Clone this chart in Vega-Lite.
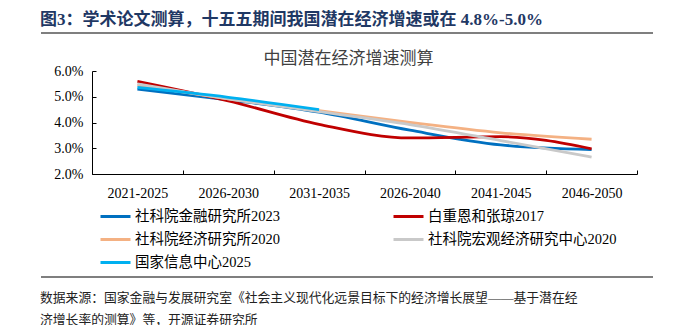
{
  "$schema": "https://vega.github.io/schema/vega-lite/v6.json",
  "padding": {"left": 40, "top": 11, "right": 0, "bottom": 0},
  "background": "white",
  "spacing": 7,
  "resolve": {"legend": {"color": "independent"}},
  "config": {"view": {"stroke": null}},
  "vconcat": [
    {
      "width": 545,
      "height": 10,
      "title": {
        "text": "图3：学术论文测算，十五五期间我国潜在经济增速或在 4.8%-5.0%",
        "anchor": "start",
        "font": "'Liberation Serif', 'Noto Sans CJK SC'",
        "fontSize": 17,
        "fontWeight": "bold",
        "color": "#1F3864",
        "offset": 3
      },
      "data": {"values": [{"x1": -51, "x2": 561, "r": 1}]},
      "layer": [
        {"mark": {"type": "rect", "fill": "white", "opacity": 0}, "encoding": {}},
        {
          "mark": {"type": "rule", "stroke": "#7F7F7F", "strokeWidth": 2},
          "encoding": {
            "x": {"field": "x1", "type": "quantitative", "scale": {"domain": [0, 545], "nice": false, "zero": false}, "axis": null},
            "x2": {"field": "x2"},
            "y": {"field": "r", "type": "quantitative", "scale": {"domain": [0, 1]}, "axis": null}
          }
        }
      ]
    },
    {
      "width": 545,
      "height": 103,
      "title": {
        "text": "中国潜在经济增速测算",
        "anchor": "middle",
        "frame": "group",
        "dx": -16,
        "font": "'Liberation Serif', 'Noto Sans CJK SC'",
        "fontSize": 17,
        "fontWeight": "normal",
        "color": "#404040",
        "offset": -4
      },
      "data": {
        "values": [
          {"period": "2021-2025", "series": "社科院金融研究所2023", "value": 5.3},
          {"period": "2026-2030", "series": "社科院金融研究所2023", "value": 4.88},
          {"period": "2031-2035", "series": "社科院金融研究所2023", "value": 4.4},
          {"period": "2026-2040", "series": "社科院金融研究所2023", "value": 3.7},
          {"period": "2041-2045", "series": "社科院金融研究所2023", "value": 3.13},
          {"period": "2046-2050", "series": "社科院金融研究所2023", "value": 2.95},
          {"period": "2021-2025", "series": "白重恩和张琼2017", "value": 5.6},
          {"period": "2026-2030", "series": "白重恩和张琼2017", "value": 4.84},
          {"period": "2031-2035", "series": "白重恩和张琼2017", "value": 3.93},
          {"period": "2026-2040", "series": "白重恩和张琼2017", "value": 3.4},
          {"period": "2041-2045", "series": "白重恩和张琼2017", "value": 3.45},
          {"period": "2046-2050", "series": "白重恩和张琼2017", "value": 2.98},
          {"period": "2021-2025", "series": "社科院经济研究所2020", "value": 5.45},
          {"period": "2026-2030", "series": "社科院经济研究所2020", "value": 4.92},
          {"period": "2031-2035", "series": "社科院经济研究所2020", "value": 4.46},
          {"period": "2026-2040", "series": "社科院经济研究所2020", "value": 4.0},
          {"period": "2041-2045", "series": "社科院经济研究所2020", "value": 3.6},
          {"period": "2046-2050", "series": "社科院经济研究所2020", "value": 3.35},
          {"period": "2021-2025", "series": "社科院宏观经济研究中心2020", "value": 5.5},
          {"period": "2026-2030", "series": "社科院宏观经济研究中心2020", "value": 4.92},
          {"period": "2031-2035", "series": "社科院宏观经济研究中心2020", "value": 4.42},
          {"period": "2026-2040", "series": "社科院宏观经济研究中心2020", "value": 3.92},
          {"period": "2041-2045", "series": "社科院宏观经济研究中心2020", "value": 3.3},
          {"period": "2046-2050", "series": "社科院宏观经济研究中心2020", "value": 2.66},
          {"period": "2021-2025", "series": "国家信息中心2025", "value": 5.36},
          {"period": "2026-2030", "series": "国家信息中心2025", "value": 4.98},
          {"period": "2031-2035", "series": "国家信息中心2025", "value": 4.5}
        ]
      },
      "mark": {"type": "line", "strokeWidth": 2.8, "interpolate": "monotone"},
      "encoding": {
        "x": {
          "field": "period",
          "type": "ordinal",
          "sort": ["2021-2025", "2026-2030", "2031-2035", "2026-2040", "2041-2045", "2046-2050"],
          "scale": {"type": "band", "paddingInner": 0, "paddingOuter": 0},
          "bandPosition": 0.5,
          "axis": {
            "title": null,
            "labelAngle": 0,
            "tickBand": "extent",
            "tickSize": -4,
            "tickColor": "#000",
            "domainColor": "#000",
            "labelColor": "#000",
            "labelFont": "'Liberation Serif', 'Noto Sans CJK SC'",
            "labelFontSize": 14,
            "labelPadding": 16,
            "grid": false
          }
        },
        "y": {
          "field": "value",
          "type": "quantitative",
          "scale": {"domain": [2, 6], "nice": false, "zero": false},
          "axis": {
            "values": [2, 3, 4, 5, 6],
            "labelExpr": "format(datum.value, '.1f') + '%'",
            "title": null,
            "tickSize": -4,
            "tickColor": "#000",
            "domainColor": "#000",
            "labelColor": "#000",
            "labelFont": "'Liberation Serif', 'Noto Sans CJK SC'",
            "labelFontSize": 14,
            "labelPadding": 13,
            "grid": false
          }
        },
        "color": {
          "field": "series",
          "type": "nominal",
          "sort": ["社科院金融研究所2023", "白重恩和张琼2017", "社科院经济研究所2020", "社科院宏观经济研究中心2020", "国家信息中心2025"],
          "scale": {
            "domain": ["社科院金融研究所2023", "白重恩和张琼2017", "社科院经济研究所2020", "社科院宏观经济研究中心2020", "国家信息中心2025"],
            "range": ["#0070C0", "#C00000", "#F4B183", "#C9C9C9", "#00B0F0"]
          },
          "legend": {
            "title": null,
            "orient": "bottom",
            "direction": "horizontal",
            "offset": 0,
            "padding": 0,
            "symbolOffset": 7,
            "columns": 2,
            "symbolType": "stroke",
            "symbolStrokeWidth": 3,
            "symbolSize": 900,
            "labelFont": "'Liberation Serif', 'Noto Sans CJK SC'",
            "labelFontSize": 14.5,
            "labelColor": "#000",
            "labelOffset": 3,
            "labelLimit": 400,
            "rowPadding": -6,
            "columnPadding": 105
          }
        }
      }
    },
    {
      "width": 545,
      "height": 2,
      "title": {
        "text": ["数据来源：国家金融与发展研究室《社会主义现代化远景目标下的经济增长展望——基于潜在经", "济增长率的测算》等，开源证券研究所"],
        "orient": "bottom",
        "anchor": "start",
        "font": "'Liberation Serif', 'Noto Sans CJK SC'",
        "fontSize": 12.8,
        "lineHeight": 22,
        "fontWeight": "normal",
        "color": "#222222",
        "offset": 13
      },
      "data": {"values": [{"x1": -51, "x2": 561, "r": 1}]},
      "layer": [
        {"mark": {"type": "rect", "fill": "white", "opacity": 0}, "encoding": {}},
        {
          "mark": {"type": "rule", "stroke": "#7F7F7F", "strokeWidth": 2},
          "encoding": {
            "x": {"field": "x1", "type": "quantitative", "scale": {"domain": [0, 545], "nice": false, "zero": false}, "axis": null},
            "x2": {"field": "x2"},
            "y": {"field": "r", "type": "quantitative", "scale": {"domain": [0, 1]}, "axis": null}
          }
        }
      ]
    }
  ]
}
